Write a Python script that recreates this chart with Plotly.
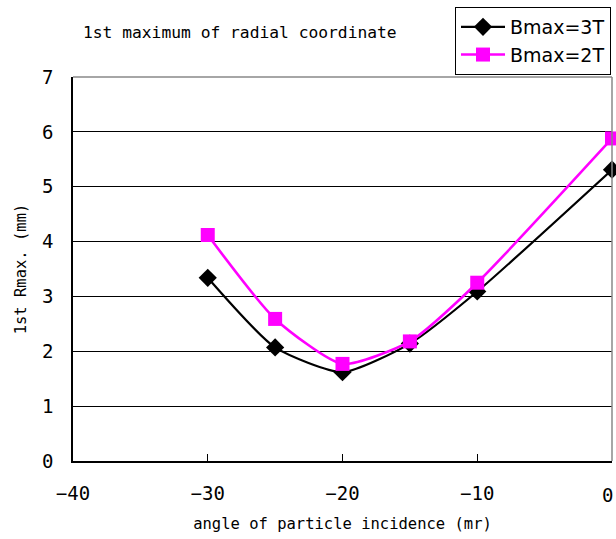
import plotly.graph_objects as go

angles = [-30, -25, -20, -15, -10, 0]
bmax3 = [3.34, 2.07, 1.62, 2.14, 3.09, 5.31]
bmax2 = [4.12, 2.59, 1.77, 2.18, 3.25, 5.88]
series_names = ["Bmax=3T", "Bmax=2T"]
x_ticks = [-40, -30, -20, -10, 0]
x_ticktext = ["\u221240", "\u221230", "\u221220", "\u221210", "0"]
y_ticks = [0, 1, 2, 3, 4, 5, 6, 7]

FONT = "DejaVu Sans Mono"

fig = go.Figure()
fig.add_trace(go.Scatter(
    x=angles, y=bmax3, name=series_names[0], mode="lines+markers",
    line=dict(color="black", width=2.2, shape="spline", smoothing=0.6),
    marker=dict(symbol="diamond", size=14, color="black"),
    cliponaxis=False,
))
fig.add_trace(go.Scatter(
    x=angles, y=bmax2, name=series_names[1], mode="lines+markers",
    line=dict(color="#ff00ff", width=2.6, shape="spline", smoothing=0.6),
    marker=dict(symbol="square", size=14, color="#ff00ff"),
    cliponaxis=False,
))

fig.update_layout(
    width=616, height=539,
    margin=dict(l=73, r=4, t=77, b=78, autoexpand=False),
    paper_bgcolor="white", plot_bgcolor="white",
    font=dict(family=FONT, size=16, color="black"),
    showlegend=True,
    legend=dict(
        x=(455 - 73) / 539, y=(461 - 7) / 384, xanchor="left", yanchor="top",
        bordercolor="black", borderwidth=1, bgcolor="white",
        font=dict(family="DejaVu Sans", size=19),
        tracegroupgap=0, itemwidth=44,
    ),
    xaxis=dict(
        range=[-40, 0], tickvals=x_ticks[:-1], ticktext=x_ticktext[:-1],
        showgrid=False, zeroline=False, automargin=False,
        showline=True, linecolor="black", linewidth=1.5, mirror=False,
        ticks="inside", ticklen=7, tickcolor="black",
        ticklabelstandoff=14,
        title=dict(text="angle of particle incidence (mr)", standoff=16,
                   font=dict(family=FONT, size=15.5)),
        tickfont=dict(family=FONT, size=19),
    ),
    yaxis=dict(
        range=[0, 7], tickvals=y_ticks,
        showgrid=True, gridcolor="black", gridwidth=1, zeroline=False,
        automargin=False,
        showline=True, linecolor="black", linewidth=1.5,
        ticks="inside", ticklen=6, tickcolor="black",
        ticklabelstandoff=14,
        title=dict(text="1st Rmax. (mm)", standoff=12,
                   font=dict(family=FONT, size=15.5)),
        tickfont=dict(family=FONT, size=19),
    ),
    shapes=[
        dict(type="line", xref="paper", yref="paper", x0=0, x1=1, y0=1, y1=1,
             line=dict(color="#888888", width=1.5)),
        dict(type="line", xref="paper", yref="paper", x0=1, x1=1, y0=0, y1=1,
             line=dict(color="#888888", width=1.5)),
    ],
    annotations=[
        dict(text="1st maximum of radial coordinate", xref="paper", yref="paper",
             x=(81 - 73) / 539, y=(461 - 32) / 384, xanchor="left", yanchor="middle",
             showarrow=False, font=dict(family=FONT, size=16.3)),
        dict(text=x_ticktext[-1], xref="x", yref="paper", x=x_ticks[-1], y=0,
             xanchor="right", yanchor="top", xshift=3, yshift=-21,
             showarrow=False, font=dict(family=FONT, size=19)),
    ],
)

fig.write_html("out.html")
